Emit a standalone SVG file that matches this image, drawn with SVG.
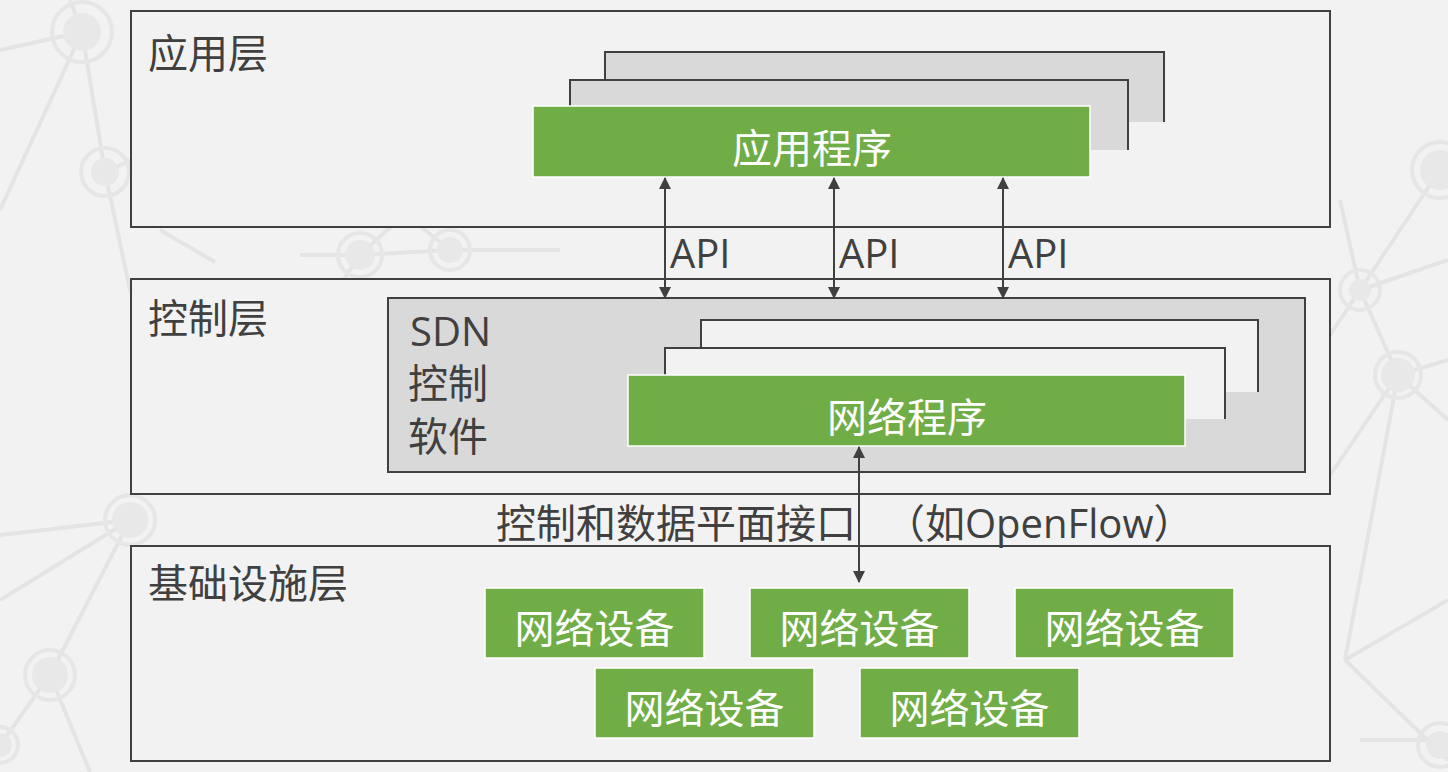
<svg xmlns="http://www.w3.org/2000/svg" width="1448" height="772" viewBox="0 0 1448 772">
<defs>
<style>
.bgl{stroke:#e4e4e4;stroke-width:4;fill:none}
.bgn{fill:#e8e8e8}
.bgr{fill:none;stroke:#e6e6e6;stroke-width:4}
.layer{fill:#f2f2f2;stroke:#404040;stroke-width:2}
.stackfill{stroke:none}
.edge{fill:none;stroke:#404040;stroke-width:2}
.green{fill:#70ad47;stroke:#ffffff;stroke-width:1.5}
.lbl{font-family:"Open Sans","Noto Sans CJK SC",sans-serif;font-size:40px;fill:#404040}
.wt{font-family:"Open Sans","Noto Sans CJK SC",sans-serif;font-size:40px;fill:#ffffff;text-anchor:middle}
.arrow{stroke:#404040;stroke-width:2;fill:none;marker-start:url(#ah);marker-end:url(#ah)}
</style>
<marker id="ah" viewBox="0 0 12 12" refX="11" refY="6" markerWidth="12" markerHeight="12" markerUnits="userSpaceOnUse" orient="auto-start-reverse">
<path d="M0,0 L12,6 L0,12 Z" fill="#404040"/>
</marker>
</defs>
<rect x="0" y="0" width="1448" height="772" fill="#f2f2f2"/>
<g id="background">
<path class="bgl" d="M0,50 L82,32 L105,172 L175,140 M82,32 L0,210 M82,32 L70,0 M105,172 L130,290 L170,300 M160,230 L215,262 M300,255 L360,255 L450,250 L560,250 M360,255 L420,200 M450,250 L400,210 M360,255 L330,300 M200,290 L450,290 M1360,290 L1320,350 M1360,290 L1398,375 L1448,360 M1360,290 L1448,260 M1360,290 L1340,200 M1398,375 L1448,420 M1398,375 L1320,490 M1398,375 L1345,660 M1440,170 L1360,290 M1345,660 L1448,600 M1345,660 L1448,760 M0,535 L130,520 L131,520 M130,520 L0,600 M50,675 L130,520 M50,675 L90,772 M0,745 L50,675 M1360,740 L1448,740"/>
<circle class="bgn" cx="82" cy="32" r="19"/><circle class="bgr" cx="82" cy="32" r="30"/>
<circle class="bgn" cx="105" cy="172" r="14"/><circle class="bgr" cx="105" cy="172" r="24"/>
<circle class="bgn" cx="360" cy="255" r="15"/><circle class="bgr" cx="360" cy="255" r="22"/>
<circle class="bgn" cx="450" cy="250" r="13"/><circle class="bgr" cx="450" cy="250" r="20"/>
<circle class="bgn" cx="1360" cy="290" r="11"/><circle class="bgr" cx="1360" cy="290" r="20"/>
<circle class="bgn" cx="1398" cy="375" r="17"/><circle class="bgr" cx="1398" cy="375" r="23"/>
<circle class="bgn" cx="1440" cy="170" r="20"/><circle class="bgr" cx="1440" cy="170" r="28"/>
<circle class="bgn" cx="130" cy="520" r="18"/><circle class="bgr" cx="130" cy="520" r="25"/>
<circle class="bgn" cx="50" cy="675" r="18"/><circle class="bgr" cx="50" cy="675" r="25"/>
<circle class="bgn" cx="0" cy="745" r="12"/><circle class="bgr" cx="0" cy="745" r="18"/>
<circle class="bgn" cx="1440" cy="745" r="14"/><circle class="bgr" cx="1440" cy="745" r="22"/>
</g>
<g id="app-layer">
<rect class="layer" x="131" y="11" width="1199" height="216"/>
<text class="lbl" x="148" y="68">应用层</text>
</g>
<g id="app-program">
<rect x="605" y="52" width="559" height="70" fill="#d9d9d9"/>
<path class="edge" d="M605,106 V52 H1164 V122"/>
<rect x="570" y="80" width="558" height="70" fill="#d9d9d9"/>
<path class="edge" d="M570,106 V80 H1128 V150"/>
<rect class="green" x="533" y="106" width="557" height="71"/>
<text class="wt" x="812" y="163">应用程序</text>
</g>
<g id="control-layer">
<rect class="layer" x="131" y="279" width="1199" height="215"/>
<text class="lbl" x="148" y="333">控制层</text>
</g>
<g id="sdn-software">
<rect x="388" y="298" width="917" height="174" fill="#d9d9d9" stroke="#404040" stroke-width="2"/>
<text class="lbl" x="410" y="346">SDN</text>
<text class="lbl" x="408" y="398">控制</text>
<text class="lbl" x="408" y="451">软件</text>
</g>
<g id="network-program">
<rect x="701" y="320" width="557" height="72" fill="#f2f2f2"/>
<path class="edge" d="M701,348 V320 H1258 V392"/>
<rect x="665" y="348" width="560" height="71" fill="#f2f2f2"/>
<path class="edge" d="M665,375 V348 H1225 V419"/>
<rect class="green" x="628" y="375" width="557" height="71"/>
<text class="wt" x="907" y="432">网络程序</text>
</g>
<g id="infra-layer">
<rect class="layer" x="131" y="546" width="1199" height="215"/>
<text class="lbl" x="148" y="598">基础设施层</text>
</g>
<g id="device-1"><rect class="green" x="485" y="588" width="219" height="70"/><text class="wt" x="594.5" y="643">网络设备</text></g>
<g id="device-2"><rect class="green" x="750" y="588" width="219" height="70"/><text class="wt" x="859.5" y="643">网络设备</text></g>
<g id="device-3"><rect class="green" x="1015" y="588" width="219" height="70"/><text class="wt" x="1124.5" y="643">网络设备</text></g>
<g id="device-4"><rect class="green" x="595" y="668" width="219" height="70"/><text class="wt" x="704.5" y="723">网络设备</text></g>
<g id="device-5"><rect class="green" x="860" y="668" width="219" height="70"/><text class="wt" x="969.5" y="723">网络设备</text></g>
<g id="connectors">
<line class="arrow" x1="665" y1="178" x2="665" y2="298"/>
<line class="arrow" x1="834" y1="178" x2="834" y2="298"/>
<line class="arrow" x1="1003" y1="178" x2="1003" y2="298"/>
<text class="lbl" x="670" y="268">API</text>
<text class="lbl" x="839" y="268">API</text>
<text class="lbl" x="1008" y="268">API</text>
<line class="arrow" x1="859" y1="447" x2="859" y2="582"/>
<text class="lbl" y="538"><tspan x="496">控制和数据平面接口</tspan><tspan x="885">（如OpenFlow）</tspan></text>
</g>
</svg>
